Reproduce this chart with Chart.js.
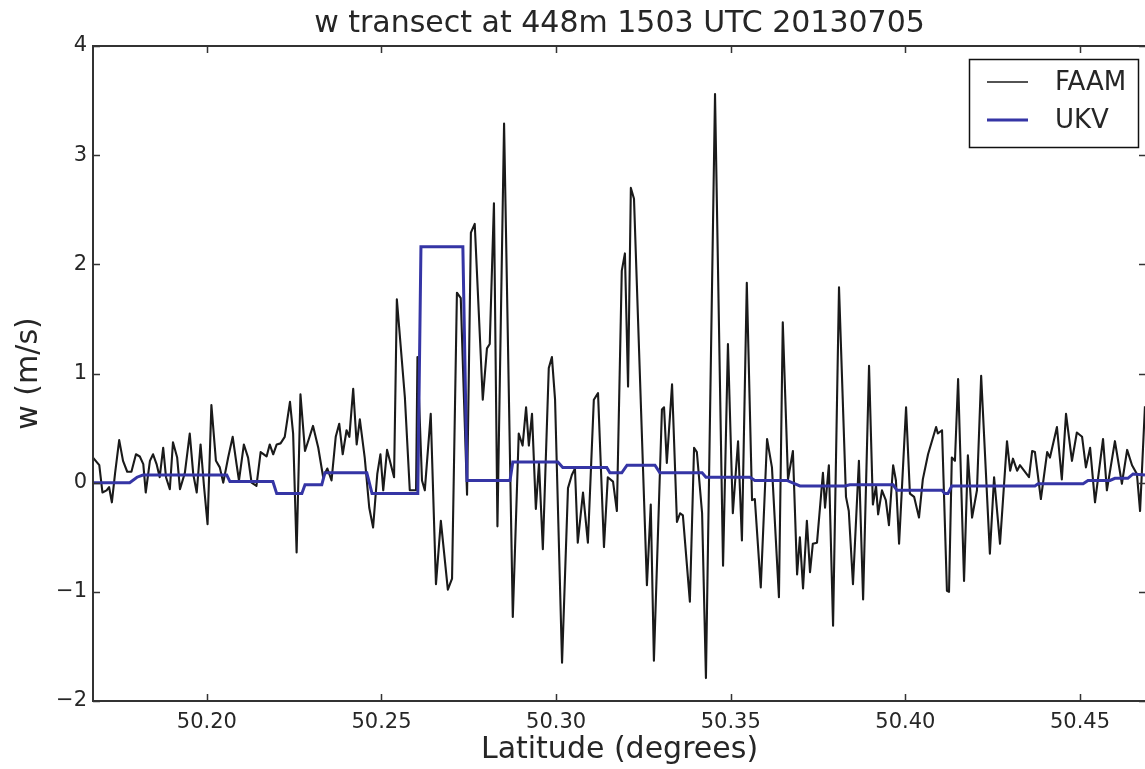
<!DOCTYPE html>
<html>
<head>
<meta charset="utf-8">
<title>w transect</title>
<script src="https://cdn.jsdelivr.net/npm/chart.js@4.4.1/dist/chart.umd.min.js"></script>
<style>
  html, body { margin: 0; padding: 0; background: #fff; overflow: hidden; }
</style>
</head>
<body>
<canvas id="canvas" width="1160" height="769"></canvas>
<script>
// FAAM aircraft vertical velocity along the transect
var faamLat = [
  50.1674, 50.1692, 50.1701, 50.1713, 50.1720, 50.1728, 50.1737, 50.1749, 50.1760, 50.1772,
  50.1784, 50.1797, 50.1808, 50.1818, 50.1825, 50.1837, 50.1846, 50.1856, 50.1865, 50.1875,
  50.1883, 50.1894, 50.1903, 50.1915, 50.1923, 50.1937, 50.1951, 50.1961, 50.1971, 50.1982,
  50.1992, 50.2002, 50.2013, 50.2026, 50.2037, 50.2047, 50.2061, 50.2074, 50.2085, 50.2092,
  50.2106, 50.2118, 50.2128, 50.2142, 50.2154, 50.2171, 50.2180, 50.2190, 50.2200, 50.2211,
  50.2223, 50.2238, 50.2247, 50.2257, 50.2268, 50.2281, 50.2295, 50.2304, 50.2319, 50.2333,
  50.2345, 50.2357, 50.2369, 50.2379, 50.2389, 50.2400, 50.2408, 50.2419, 50.2429, 50.2438,
  50.2452, 50.2465, 50.2476, 50.2488, 50.2497, 50.2505, 50.2516, 50.2524, 50.2536, 50.2544,
  50.2567, 50.2581, 50.2599, 50.2603, 50.2616, 50.2624, 50.2641, 50.2656, 50.2670, 50.2690,
  50.2702, 50.2716, 50.2727, 50.2745, 50.2756, 50.2767, 50.2790, 50.2802, 50.2810, 50.2822,
  50.2832, 50.2851, 50.2876, 50.2893, 50.2904, 50.2914, 50.2922, 50.2931, 50.2942, 50.2951,
  50.2962, 50.2979, 50.2988, 50.2997, 50.3017, 50.3034, 50.3045, 50.3054, 50.3062, 50.3077,
  50.3091, 50.3108, 50.3120, 50.3137, 50.3148, 50.3163, 50.3174, 50.3188, 50.3197, 50.3206,
  50.3214, 50.3223, 50.3260, 50.3271, 50.3280, 50.3303, 50.3309, 50.3317, 50.3332, 50.3346,
  50.3355, 50.3363, 50.3383, 50.3395, 50.3403, 50.3418, 50.3429, 50.3455, 50.3478, 50.3492,
  50.3506, 50.3521, 50.3532, 50.3546, 50.3561, 50.3569, 50.3586, 50.3604, 50.3618, 50.3638,
  50.3649, 50.3664, 50.3678, 50.3690, 50.3698, 50.3707, 50.3718, 50.3727, 50.3735, 50.3747,
  50.3764, 50.3770, 50.3781, 50.3793, 50.3810, 50.3830, 50.3838, 50.3850, 50.3867, 50.3879,
  50.3896, 50.3907, 50.3916, 50.3922, 50.3933, 50.3944, 50.3953, 50.3965, 50.3973, 50.3982,
  50.4002, 50.4013, 50.4025, 50.4039, 50.4050, 50.4065, 50.4088, 50.4093, 50.4105, 50.4119,
  50.4125, 50.4133, 50.4142, 50.4151, 50.4168, 50.4179, 50.4191, 50.4205, 50.4217, 50.4242,
  50.4254, 50.4271, 50.4291, 50.4300, 50.4308, 50.4320, 50.4328, 50.4354, 50.4363, 50.4371,
  50.4388, 50.4406, 50.4414, 50.4434, 50.4448, 50.4460, 50.4477, 50.4491, 50.4506, 50.4517,
  50.4529, 50.4543, 50.4566, 50.4577, 50.4600, 50.4620, 50.4635, 50.4649, 50.4663, 50.4672,
  50.4686
];
var faamW = [
  0.23, 0.16, -0.09, -0.07, -0.04, -0.18, 0.08, 0.39, 0.20, 0.10,
  0.10, 0.26, 0.24, 0.17, -0.09, 0.20, 0.26, 0.17, 0.05, 0.32,
  0.05, -0.06, 0.37, 0.23, -0.06, 0.09, 0.45, 0.08, -0.09, 0.35,
  -0.04, -0.38, 0.71, 0.20, 0.14, 0.00, 0.23, 0.42, 0.17, 0.02,
  0.35, 0.23, 0.00, -0.03, 0.28, 0.24, 0.35, 0.26, 0.35, 0.36,
  0.42, 0.74, 0.45, -0.64, 0.81, 0.29, 0.43, 0.52, 0.32, 0.05,
  0.13, 0.02, 0.42, 0.54, 0.26, 0.48, 0.42, 0.86, 0.35, 0.58,
  0.23, -0.23, -0.41, 0.08, 0.26, -0.07, 0.30, 0.20, 0.05, 1.68,
  0.78, -0.07, -0.07, 1.15, 0.02, -0.07, 0.63, -0.93, -0.35, -0.98,
  -0.88, 1.74, 1.69, -0.11, 2.29, 2.37, 0.76, 1.23, 1.27, 2.56,
  -0.40, 3.29, -1.23, 0.45, 0.34, 0.69, 0.34, 0.63, -0.24, 0.18,
  -0.61, 1.05, 1.15, 0.76, -1.65, -0.05, 0.07, 0.13, -0.55, -0.09,
  -0.55, 0.76, 0.82, -0.59, 0.05, 0.01, -0.26, 1.94, 2.10, 0.88,
  2.70, 2.60, -0.94, -0.20, -1.63, 0.67, 0.69, 0.18, 0.90, -0.36,
  -0.28, -0.30, -1.09, 0.32, 0.28, -0.28, -1.79, 3.56, -0.76, 1.27,
  -0.28, 0.38, -0.53, 1.83, -0.16, -0.15, -0.96, 0.40, 0.14, -1.05,
  1.47, 0.03, 0.29, -0.84, -0.50, -0.97, -0.35, -0.82, -0.56, -0.55,
  0.09, -0.23, 0.16, -1.31, 1.79, -0.13, -0.26, -0.93, 0.20, -1.07,
  1.07, -0.20, -0.03, -0.29, -0.07, -0.16, -0.39, 0.16, 0.02, -0.56,
  0.69, -0.10, -0.13, -0.32, 0.03, 0.26, 0.51, 0.45, 0.48, -0.99,
  -1.00, 0.23, 0.20, 0.95, -0.90, 0.25, -0.32, -0.07, 0.98, -0.65,
  0.05, -0.56, 0.38, 0.11, 0.22, 0.11, 0.16, 0.05, 0.29, 0.28,
  -0.15, 0.28, 0.23, 0.51, 0.03, 0.63, 0.20, 0.46, 0.42, 0.14,
  0.32, -0.18, 0.40, -0.07, 0.38, -0.01, 0.30, 0.16, 0.08, -0.26,
  0.70
];

// UKV model w, stepped at the model grid boxes
var ukvLat = [
  50.1674, 50.1779, 50.1800, 50.1817, 50.2057, 50.2066, 50.2189, 50.2200, 50.2272, 50.2281,
  50.2329, 50.2338, 50.2458, 50.2473, 50.2604, 50.2613, 50.2733, 50.2745, 50.2868, 50.2876,
  50.3005, 50.3019, 50.3145, 50.3154, 50.3188, 50.3203, 50.3283, 50.3297, 50.3418, 50.3429,
  50.3555, 50.3569, 50.3661, 50.3698, 50.3827, 50.3841, 50.3965, 50.3976, 50.4105, 50.4113,
  50.4122, 50.4133, 50.4371, 50.4380, 50.4509, 50.4523, 50.4586, 50.4600, 50.4637, 50.4652,
  50.4686
];
var ukvW = [
  0.00, 0.00, 0.05, 0.07, 0.07, 0.01, 0.01, -0.10, -0.10, -0.02,
  -0.02, 0.09, 0.09, -0.10, -0.10, 2.16, 2.16, 0.02, 0.02, 0.19,
  0.19, 0.14, 0.14, 0.09, 0.09, 0.16, 0.16, 0.09, 0.09, 0.05,
  0.05, 0.02, 0.02, -0.03, -0.03, -0.02, -0.02, -0.07, -0.07, -0.10,
  -0.10, -0.03, -0.03, -0.01, -0.01, 0.02, 0.02, 0.04, 0.04, 0.08,
  0.07
];

var latTicks = [50.20, 50.25, 50.30, 50.35, 50.40, 50.45];
var wTicks = [-2, -1, 0, 1, 2, 3, 4];
var latMin = 50.1674, latMax = 50.4689;

var FONT = 'DejaVu Sans';
var TEXT = '#262626';
var AXIS = '#333333';

function toPoints(xs, ys) {
    return xs.map(function (x, i) { return { x: x, y: ys[i] }; });
}

function minus(v) {
    return v < 0 ? '\u2212' + Math.abs(v) : String(v);
}

// matplotlib-ish frame: full box with inward ticks, plus a boxed legend
var framePlugin = {
    id: 'frame',
    afterDatasetsDraw: function (chart) {
        var ctx = chart.ctx, a = chart.chartArea;
        var xs = chart.scales.x, ys = chart.scales.y;
        var len = 7;
        ctx.save();
        ctx.strokeStyle = AXIS;
        ctx.lineWidth = 1.5;
        latTicks.forEach(function (v) {
            var px = Math.round(xs.getPixelForValue(v)) + 0.5;
            ctx.beginPath();
            ctx.moveTo(px, a.bottom); ctx.lineTo(px, a.bottom - len);
            ctx.moveTo(px, a.top); ctx.lineTo(px, a.top + len);
            ctx.stroke();
        });
        wTicks.forEach(function (v) {
            var py = Math.round(ys.getPixelForValue(v)) + 0.5;
            ctx.beginPath();
            ctx.moveTo(a.left, py); ctx.lineTo(a.left + len, py);
            ctx.moveTo(a.right, py); ctx.lineTo(a.right - len, py);
            ctx.stroke();
        });
        ctx.lineWidth = 2;
        ctx.strokeRect(a.left, a.top, a.right - a.left, a.bottom - a.top);

        // legend box, upper right
        var bx = 969, by = 59, bw = 169, bh = 88;
        var legendWidths = [1.5, 2.8];
        ctx.fillStyle = '#fff';
        ctx.fillRect(bx, by, bw, bh);
        ctx.lineWidth = 1.5;
        ctx.strokeStyle = '#111';
        ctx.strokeRect(bx + 0.5, by + 0.5, bw, bh);
        ctx.font = '26px "' + FONT + '"';
        ctx.textBaseline = 'middle';
        ctx.textAlign = 'left';
        chart.data.datasets.forEach(function (ds, i) {
            var ly = by + 23 + i * 38;
            ctx.strokeStyle = ds.borderColor;
            ctx.lineWidth = legendWidths[i];
            ctx.beginPath();
            ctx.moveTo(bx + 18, ly); ctx.lineTo(bx + 59, ly);
            ctx.stroke();
            ctx.fillStyle = TEXT;
            ctx.fillText(ds.label, bx + 86, ly + 1);
        });
        ctx.restore();
    }
};

window.onload = function () {
    var ctx = document.getElementById('canvas').getContext('2d');
    window.myLine = new Chart(ctx, {
        type: 'line',
        data: {
            datasets: [{
                label: 'FAAM',
                data: toPoints(faamLat, faamW),
                borderColor: '#1a1a1a',
                borderWidth: 2.1,
                borderJoinStyle: 'round',
                pointRadius: 0,
                tension: 0,
                fill: false,
                order: 2
            }, {
                label: 'UKV',
                data: toPoints(ukvLat, ukvW),
                borderColor: '#3535a5',
                borderWidth: 3,
                pointRadius: 0,
                tension: 0,
                fill: false,
                order: 1
            }]
        },
        options: {
            responsive: false,
            animation: false,
            events: [],
            layout: { padding: { top: 0, right: 14, bottom: 0, left: 0 } },
            plugins: {
                legend: { display: false },
                tooltip: { enabled: false },
                title: {
                    display: true,
                    fullSize: false,
                    text: 'w transect at 448m 1503 UTC 20130705',
                    color: TEXT,
                    font: { family: FONT, size: 30, weight: 'normal', lineHeight: 1.2 },
                    padding: { top: 6, bottom: 4 }
                }
            },
            scales: {
                x: {
                    type: 'linear',
                    min: latMin,
                    max: latMax,
                    grid: { display: false, drawTicks: false },
                    border: { display: false },
                    afterFit: function (s) { s.height = 68; },
                    afterBuildTicks: function (s) {
                        s.ticks = latTicks.map(function (v) { return { value: v }; });
                    },
                    ticks: {
                        color: TEXT,
                        padding: 9,
                        maxRotation: 0,
                        font: { family: FONT, size: 21 },
                        callback: function (v) { return Number(v).toFixed(2); }
                    },
                    title: {
                        display: true,
                        text: 'Latitude (degrees)',
                        color: TEXT,
                        font: { family: FONT, size: 30, lineHeight: 1.2 },
                        padding: { top: 0, bottom: 1 }
                    }
                },
                y: {
                    min: -2,
                    max: 4,
                    grid: { display: false, drawTicks: false },
                    border: { display: false },
                    afterFit: function (s) { s.width = 93; },
                    afterBuildTicks: function (s) {
                        s.ticks = wTicks.map(function (v) { return { value: v }; });
                    },
                    ticks: {
                        color: TEXT,
                        padding: 6,
                        font: { family: FONT, size: 21 },
                        callback: function (v) { return minus(v); }
                    },
                    title: {
                        display: true,
                        text: 'w (m/s)',
                        color: TEXT,
                        font: { family: FONT, size: 30, lineHeight: 1.2 },
                        padding: { top: 11, bottom: 0 }
                    }
                }
            }
        },
        plugins: [framePlugin]
    });
};
</script>
</body>
</html>
